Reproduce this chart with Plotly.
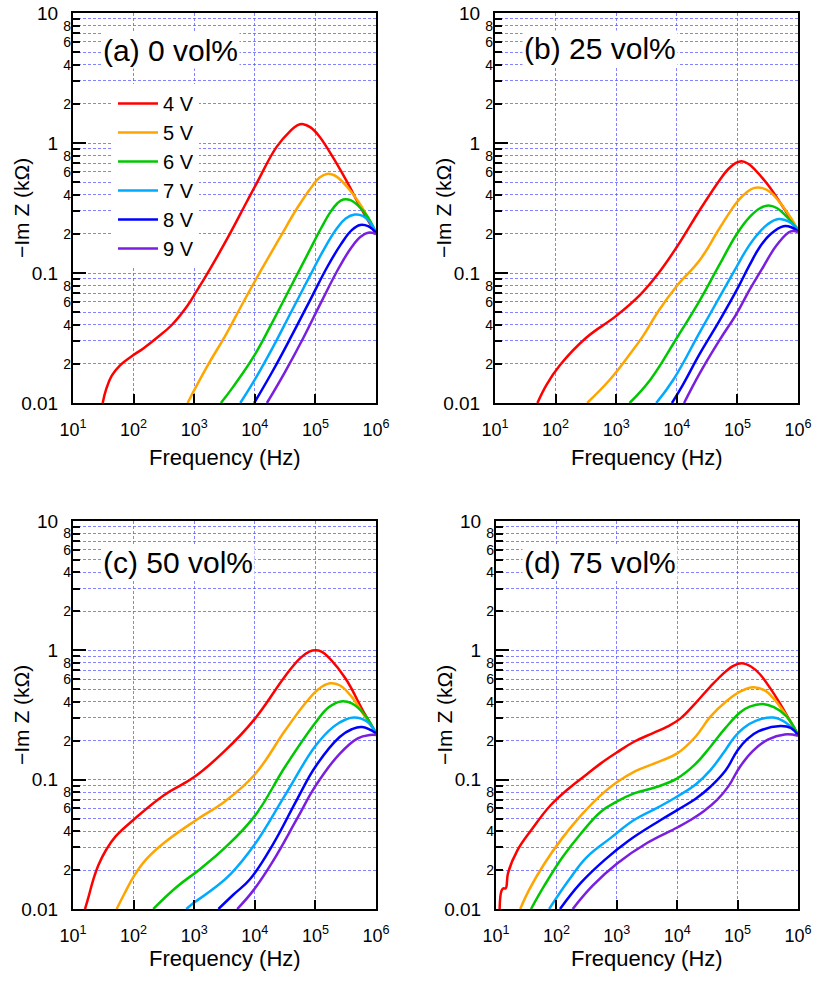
import numpy as np
import plotly.graph_objects as go

# ---------------- data (log10 of frequency in Hz, log10 of -Im Z in kOhm) ----------------
VOLTS = ['4 V', '5 V', '6 V', '7 V', '8 V', '9 V']
COLORS = ['#ff0000', '#ffa500', '#00c800', '#00aaff', '#0000ff', '#7a1fe0']
PANEL_LABELS = ['(a) 0 vol%', '(b) 25 vol%', '(c) 50 vol%', '(d) 75 vol%']
X_TICK_EXP = [1, 2, 3, 4, 5, 6]
Y_MAJOR = [0.01, 0.1, 1, 10]
Y_MAJOR_TEXT = ['0.01', '0.1', '1', '10']
Y_MINOR_MANT = [2, 3, 4, 5, 6, 7, 8, 9]
Y_MINOR_LABELED = [2, 4, 6, 8]

# (a) 0 vol%
A4_lf = [1.49, 1.55, 1.64, 1.776, 1.969, 2.16, 2.38, 2.63, 2.876, 3.04, 3.26, 3.54, 3.87, 4.03, 4.36, 4.58, 4.7, 4.8, 4.92, 5.05, 5.25, 5.5, 5.75, 6.0]
A4_lz = [-2.0, -1.89, -1.79, -1.71, -1.64, -1.58, -1.50, -1.40, -1.26, -1.14, -0.97, -0.74, -0.45, -0.31, -0.03, 0.09, 0.135, 0.145, 0.12, 0.06, -0.08, -0.28, -0.5, -0.70]
A5_lf = [2.89, 3.2, 3.54, 3.81, 4.09, 4.4, 4.7, 4.95, 5.07, 5.19, 5.32, 5.45, 5.6, 5.75, 6.0]
A5_lz = [-2.0, -1.73, -1.46, -1.225, -0.99, -0.74, -0.5, -0.33, -0.265, -0.238, -0.25, -0.3, -0.38, -0.48, -0.69]
A6_lf = [3.44, 3.645, 3.98, 4.3, 4.6, 4.9, 5.1, 5.25, 5.36, 5.46, 5.58, 5.7, 5.85, 6.0]
A6_lz = [-2.0, -1.874, -1.644, -1.37, -1.1, -0.83, -0.65, -0.53, -0.465, -0.435, -0.44, -0.48, -0.56, -0.69]
A7_lf = [3.76, 4.0, 4.3, 4.6, 4.9, 5.15, 5.35, 5.5, 5.65, 5.78, 5.9, 6.0]
A7_lz = [-2.0, -1.82, -1.57, -1.3, -1.03, -0.81, -0.66, -0.58, -0.55, -0.56, -0.61, -0.69]
A8_lf = [3.99, 4.3, 4.6, 4.9, 5.2, 5.42, 5.6, 5.74, 5.87, 6.0]
A8_lz = [-2.0, -1.75, -1.49, -1.22, -0.95, -0.78, -0.67, -0.63, -0.64, -0.69]
A9_lf = [4.2, 4.5, 4.8, 5.1, 5.4, 5.6, 5.75, 5.87, 6.0]
A9_lz = [-2.0, -1.76, -1.5, -1.22, -0.95, -0.8, -0.72, -0.69, -0.70]

# (b) 25 vol%
B4_lf = [1.70, 1.85, 2.07, 2.5, 3.0, 3.39, 3.7, 4.0, 4.38, 4.7, 4.85, 4.97, 5.07, 5.18, 5.3, 5.5, 5.75, 6.0]
B4_lz = [-2.0, -1.86, -1.71, -1.5, -1.33, -1.17, -1.0, -0.80, -0.515, -0.29, -0.2, -0.155, -0.14, -0.16, -0.21, -0.32, -0.49, -0.67]
B5_lf = [2.52, 2.89, 3.2, 3.45, 3.7, 4.0, 4.38, 4.7, 5.0, 5.15, 5.28, 5.4, 5.55, 5.8, 6.0]
B5_lz = [-2.0, -1.823, -1.64, -1.48, -1.29, -1.1, -0.9, -0.66, -0.45, -0.38, -0.345, -0.345, -0.38, -0.52, -0.67]
B6_lf = [3.22, 3.56, 4.0, 4.38, 4.7, 4.99, 5.2, 5.38, 5.51, 5.65, 5.8, 6.0]
B6_lz = [-2.0, -1.823, -1.5, -1.21, -0.94, -0.7, -0.57, -0.5, -0.48, -0.5, -0.56, -0.67]
B7_lf = [3.66, 3.94, 4.38, 4.7, 4.99, 5.15, 5.32, 5.5, 5.68, 5.85, 6.0]
B7_lz = [-2.0, -1.823, -1.455, -1.19, -0.95, -0.82, -0.71, -0.625, -0.585, -0.605, -0.67]
B8_lf = [3.92, 4.1, 4.38, 4.7, 4.99, 5.2, 5.37, 5.55, 5.76, 5.9, 6.0]
B8_lz = [-2.0, -1.86, -1.62, -1.37, -1.13, -0.94, -0.8, -0.7, -0.64, -0.65, -0.68]
B9_lf = [4.12, 4.38, 4.7, 4.99, 5.2, 5.43, 5.65, 5.88, 6.0]
B9_lz = [-2.0, -1.77, -1.52, -1.31, -1.13, -0.95, -0.785, -0.68, -0.685]

# (c) 50 vol%
C4_lf = [1.198, 1.26, 1.33, 1.42, 1.55, 1.7, 2.0, 2.5, 3.0, 3.5, 4.0, 4.5, 4.75, 4.9, 5.0, 5.1, 5.25, 5.5, 5.8, 6.0]
C4_lz = [-2.0, -1.9, -1.78, -1.66, -1.54, -1.44, -1.31, -1.12, -0.98, -0.78, -0.53, -0.2, -0.06, -0.01, 0.0, -0.01, -0.07, -0.22, -0.48, -0.64]
C5_lf = [1.72, 1.85, 2.0, 2.2, 2.5, 3.04, 3.5, 4.0, 4.5, 4.85, 5.05, 5.24, 5.4, 5.6, 5.8, 6.0]
C5_lz = [-2.0, -1.88, -1.75, -1.62, -1.49, -1.31, -1.17, -0.96, -0.62, -0.4, -0.3, -0.255, -0.27, -0.36, -0.5, -0.64]
C6_lf = [2.325, 2.71, 3.1, 3.5, 4.0, 4.5, 5.0, 5.22, 5.42, 5.6, 5.8, 6.0]
C6_lz = [-2.0, -1.83, -1.69, -1.53, -1.28, -0.9, -0.56, -0.44, -0.395, -0.41, -0.49, -0.64]
C7_lf = [2.87, 3.0, 3.3, 3.6, 4.0, 4.5, 5.0, 5.3, 5.5, 5.64, 5.85, 6.0]
C7_lz = [-2.0, -1.95, -1.85, -1.73, -1.5, -1.12, -0.74, -0.59, -0.535, -0.52, -0.55, -0.64]
C8_lf = [3.4, 3.645, 3.92, 4.3, 4.7, 5.0, 5.4, 5.6, 5.77, 6.0]
C8_lz = [-2.0, -1.89, -1.77, -1.5, -1.15, -0.9, -0.67, -0.61, -0.593, -0.64]
C9_lf = [3.71, 3.98, 4.3, 4.7, 5.0, 5.4, 5.7, 5.9, 6.0]
C9_lz = [-2.0, -1.854, -1.63, -1.3, -1.05, -0.8, -0.68, -0.655, -0.655]

# (d) 75 vol%
D4_lf = [1.06, 1.09, 1.12, 1.16, 1.2, 1.35, 1.6, 1.9, 2.2, 2.5, 2.736, 3.0, 3.285, 3.6, 3.835, 4.056, 4.3, 4.55, 4.8, 4.93, 5.07, 5.22, 5.37, 5.55, 5.7, 5.85, 6.0]
D4_lz = [-2.0, -1.86, -1.84, -1.84, -1.72, -1.55, -1.38, -1.2, -1.07, -0.96, -0.874, -0.79, -0.707, -0.64, -0.59, -0.526, -0.41, -0.28, -0.165, -0.12, -0.1, -0.125, -0.185, -0.3, -0.41, -0.53, -0.65]
D5_lf = [1.4, 1.55, 1.8, 2.1, 2.4, 2.736, 3.0, 3.285, 3.7, 4.0, 4.3, 4.55, 4.8, 5.04, 5.26, 5.45, 5.59, 5.8, 6.0]
D5_lz = [-2.0, -1.85, -1.65, -1.45, -1.28, -1.119, -1.02, -0.939, -0.86, -0.797, -0.67, -0.513, -0.4, -0.32, -0.285, -0.31, -0.37, -0.5, -0.65]
D6_lf = [1.58, 1.8, 2.1, 2.4, 2.736, 3.0, 3.285, 3.67, 4.0, 4.3, 4.55, 4.8, 5.04, 5.2, 5.42, 5.6, 5.81, 6.0]
D6_lz = [-2.0, -1.82, -1.6, -1.42, -1.248, -1.17, -1.106, -1.055, -0.99, -0.88, -0.745, -0.6, -0.48, -0.435, -0.415, -0.44, -0.51, -0.655]
D7_lf = [1.88, 2.2, 2.5, 2.9, 3.285, 3.7, 4.0, 4.3, 4.55, 4.8, 4.95, 5.1, 5.3, 5.59, 5.8, 6.0]
D7_lz = [-2.0, -1.78, -1.6, -1.45, -1.312, -1.21, -1.13, -1.04, -0.926, -0.77, -0.67, -0.6, -0.545, -0.52, -0.56, -0.655]
D8_lf = [2.06, 2.4, 2.8, 3.2, 3.726, 4.0, 4.3, 4.55, 4.8, 4.99, 5.15, 5.35, 5.71, 5.88, 6.0]
D8_lz = [-2.0, -1.8, -1.62, -1.47, -1.312, -1.235, -1.15, -1.055, -0.93, -0.78, -0.69, -0.625, -0.585, -0.6, -0.655]
D9_lf = [2.27, 2.6, 3.0, 3.5, 4.0, 4.22, 4.45, 4.66, 4.85, 5.04, 5.25, 5.5, 5.78, 6.0]
D9_lz = [-2.0, -1.82, -1.65, -1.49, -1.37, -1.312, -1.24, -1.157, -1.05, -0.9, -0.78, -0.69, -0.65, -0.66]

PANELS = [
    [(A4_lf, A4_lz), (A5_lf, A5_lz), (A6_lf, A6_lz), (A7_lf, A7_lz), (A8_lf, A8_lz), (A9_lf, A9_lz)],
    [(B4_lf, B4_lz), (B5_lf, B5_lz), (B6_lf, B6_lz), (B7_lf, B7_lz), (B8_lf, B8_lz), (B9_lf, B9_lz)],
    [(C4_lf, C4_lz), (C5_lf, C5_lz), (C6_lf, C6_lz), (C7_lf, C7_lz), (C8_lf, C8_lz), (C9_lf, C9_lz)],
    [(D4_lf, D4_lz), (D5_lf, D5_lz), (D6_lf, D6_lz), (D7_lf, D7_lz), (D8_lf, D8_lz), (D9_lf, D9_lz)],
]

# ---------------- layout geometry (pixels) ----------------
W, H = 814, 982
BOXES = [(73, 376, 13, 403), (495, 798, 13, 403), (73, 376, 521, 909), (496, 798, 521, 909)]
LABEL_POS = [(101, 50), (522, 49), (101, 562), (522, 562)]
FONT = 'Liberation Sans, Arial, sans-serif'
GRID = 'rgba(90,90,255,0.75)'
GDASH = '3px,2px'

fig = go.Figure()

minor_vals = [m * 10.0 ** e for e in (-2, -1, 0) for m in Y_MINOR_MANT]
minor_lab_vals = [m * 10.0 ** e for e in (-2, -1, 0) for m in Y_MINOR_LABELED]
minor_lab_text = [str(m) for e in (-2, -1, 0) for m in Y_MINOR_LABELED]

annotations = []
for p in range(4):
    i = p + 1
    xid = 'x' if i == 1 else f'x{i}'
    yid = 'y' if i == 1 else f'y{i}'
    yov = f'y{i + 4}'
    for k, (lf, lz) in enumerate(PANELS[p]):
        fig.add_trace(go.Scatter(
            x=10.0 ** np.array(lf), y=10.0 ** np.array(lz), mode='lines',
            line=dict(color=COLORS[k], width=2.5, shape='spline', smoothing=1.2),
            name=VOLTS[k], showlegend=(p == 0), xaxis=xid, yaxis=yid, cliponaxis=True))
    fig.add_trace(go.Scatter(x=[], y=[], xaxis=xid, yaxis=yov, showlegend=False, hoverinfo='skip'))

    l, r, t, b = BOXES[p]
    xdom = [l / W, r / W]
    ydom = [1 - b / H, 1 - t / H]
    fig.layout[('xaxis' if i == 1 else f'xaxis{i}')] = dict(
        domain=xdom, anchor=yid, type='log', range=[1, 6],
        tickmode='array', tickvals=[10.0 ** e for e in X_TICK_EXP],
        ticktext=[f'10<sup>{e}</sup>' for e in X_TICK_EXP],
        ticks='inside', ticklen=9, tickwidth=2, tickcolor='black',
        showline=True, linewidth=2, linecolor='black', mirror=True,
        showgrid=True, gridcolor=GRID, griddash=GDASH, gridwidth=1,
        tickfont=dict(size=18, color='black', family=FONT), zeroline=False,
        automargin=False, ticklabelstandoff=9)
    fig.layout[('yaxis' if i == 1 else f'yaxis{i}')] = dict(
        domain=ydom, anchor=xid, type='log', range=[-2, 1],
        tickmode='array', tickvals=Y_MAJOR, ticktext=Y_MAJOR_TEXT,
        ticks='inside', ticklen=13, tickwidth=2, tickcolor='black',
        showline=True, linewidth=2, linecolor='black', mirror=True,
        showgrid=True, gridcolor=GRID, griddash=GDASH, gridwidth=1,
        minor=dict(tickmode='array', tickvals=minor_vals, ticks='inside', ticklen=7,
                   tickwidth=2, tickcolor='black', showgrid=True, gridcolor=GRID,
                   griddash=GDASH, gridwidth=1),
        tickfont=dict(size=19, color='black', family=FONT), zeroline=False,
        automargin=False, ticklabelstandoff=9)
    fig.layout[f'yaxis{i + 4}'] = dict(
        overlaying=yid, anchor=xid, side='left', type='log', range=[-2, 1],
        tickmode='array', tickvals=minor_lab_vals, ticktext=minor_lab_text,
        ticks='', showgrid=False, showline=False, zeroline=False,
        tickfont=dict(size=14, color='black', family=FONT), automargin=False,
        ticklabelstandoff=1)

    lx, ly = LABEL_POS[p]
    annotations.append(dict(text=PANEL_LABELS[p], xref='paper', yref='paper',
                            x=lx / W, y=1 - ly / H, xanchor='left', yanchor='middle',
                            showarrow=False, bgcolor='white', borderpad=1,
                            font=dict(size=30, color='black', family=FONT)))
    annotations.append(dict(text='\u2212Im Z (k\u03a9)', xref='paper', yref='paper',
                            x=(l - 52) / W, y=1 - ((t + b) / 2) / H, textangle=-90,
                            xanchor='center', yanchor='middle', showarrow=False,
                            font=dict(size=21, color='black', family=FONT)))
    annotations.append(dict(text='Frequency (Hz)', xref='paper', yref='paper',
                            x=((l + r) / 2) / W, y=1 - (b + (54 if p < 2 else 49)) / H,
                            xanchor='center', yanchor='middle', showarrow=False,
                            font=dict(size=22, color='black', family=FONT)))

fig.update_layout(
    width=W, height=H, margin=dict(l=0, r=0, t=0, b=0),
    paper_bgcolor='white', plot_bgcolor='white',
    font=dict(family=FONT, color='black'),
    annotations=annotations,
    legend=dict(x=113 / W, y=1 - 84 / H, xanchor='left', yanchor='top',
                bgcolor='white', borderwidth=0, itemwidth=40, tracegroupgap=0,
                font=dict(size=20, color='black', family=FONT)),
)

fig.write_html('out.html')
